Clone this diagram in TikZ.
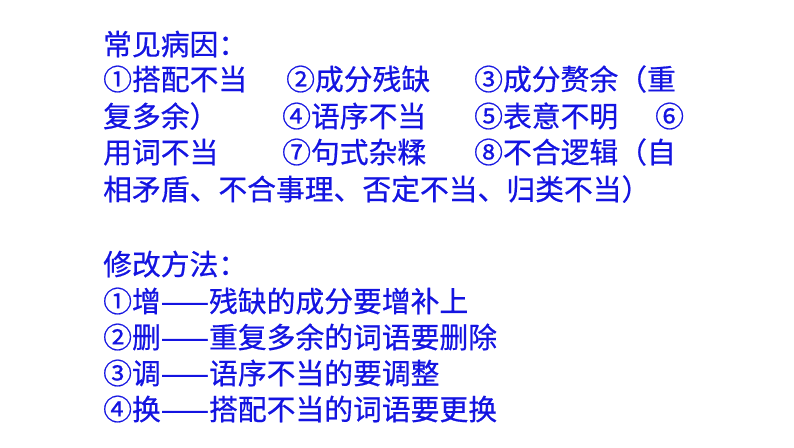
\documentclass[tikz,border=0pt]{standalone}
\usepackage{fontspec}
\newfontfamily\cjk[FakeBold=0.6]{Noto Sans CJK SC}
\definecolor{tb}{RGB}{20,20,225}
\begin{document}
\begin{tikzpicture}[x=1pt,y=1pt,t/.style={anchor=base west,inner sep=0,text=tb,font=\cjk\fontsize{28.8}{28.8}\selectfont}]
\useasboundingbox (0,0) rectangle (794,447);
\node[t] (a1) at (103,447-55) {常见病因：};
\node[t] (b1) at (103,447-90) {①搭配不当};
\node[t] (b2) at (286,447-90) {②成分残缺};
\node[t] (b3) at (474,447-90) {③成分赘余（重};
\node[t] (c1) at (103,447-127) {复多余）};
\node[t] (c2) at (282,447-127) {④语序不当};
\node[t] (c3) at (474,447-127) {⑤表意不明};
\node[t] (c4) at (655,447-127) {⑥};
\node[t] (d1) at (103,447-163) {用词不当};
\node[t] (d2) at (282,447-163) {⑦句式杂糅};
\node[t] (d3) at (474,447-163) {⑧不合逻辑（自};
\node[t] (e1) at (103,447-200) {相矛盾、不合事理、否定不当、归类不当）};
\node[t] (f1) at (103,447-275) {修改方法：};
\node[t] (g1) at (103,447-312) {①增——残缺的成分要增补上};
\node[t] (h1) at (103,447-348) {②删——重复多余的词语要删除};
\node[t] (i1) at (103,447-384) {③调——语序不当的要调整};
\node[t] (j1) at (103,447-420) {④换——搭配不当的词语要更换};
\end{tikzpicture}
\end{document}
